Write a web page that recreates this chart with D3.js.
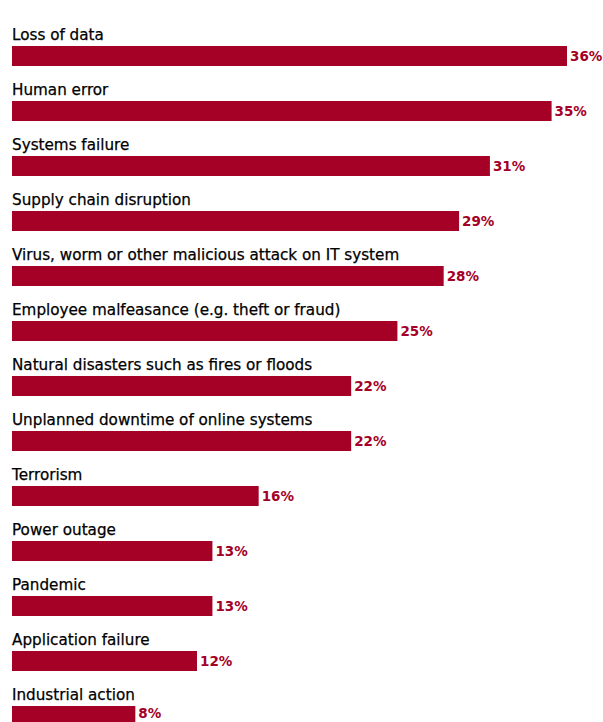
<!DOCTYPE html>
<html>
<head>
<meta charset="utf-8">
<script src="https://cdn.jsdelivr.net/npm/d3@7"></script>
<style>
  body { margin: 0; background: #fff; }
  .cat { font-family: "DejaVu Sans", Verdana, sans-serif; font-size: 15.2px; fill: #000; stroke: #000; stroke-width: 0.25px; }
  .val { font-family: "DejaVu Sans", Verdana, sans-serif; font-size: 13.5px; font-weight: bold; fill: #a50026; }
</style>
</head>
<body>
<div id="chart"></div>
<script>
var categories = [
    "Loss of data",
    "Human error",
    "Systems failure",
    "Supply chain disruption",
    "Virus, worm or other malicious attack on IT system",
    "Employee malfeasance (e.g. theft or fraud)",
    "Natural disasters such as fires or floods",
    "Unplanned downtime of online systems",
    "Terrorism",
    "Power outage",
    "Pandemic",
    "Application failure",
    "Industrial action"
];
var values = [36, 35, 31, 29, 28, 25, 22, 22, 16, 13, 13, 12, 8];

function init() {
    var w = 603;
    var h = 722;
    var left = 12;
    var top = 19;
    var rowH = 55;

    var svg = d3.select("#chart")
        .append("svg")
        .attr("width", w)
        .attr("height", h);

    // 36% reaches about x=567
    var xScale = d3.scaleLinear()
        .domain([0, 36])
        .range([left, 567]);

    var yScale = d3.scaleBand()
        .domain(categories)
        .range([top, top + rowH * categories.length])
        .paddingInner(0)
        .paddingOuter(0);

    var barTop = 27;
    var barH = 20;

    var rows = svg.selectAll("g.row")
        .data(categories)
        .enter()
        .append("g")
        .attr("class", "row")
        .attr("transform", function(d) { return "translate(0," + yScale(d) + ")"; });

    rows.append("text")
        .attr("class", "cat")
        .attr("x", left)
        .attr("y", 21)
        .text(function(d) { return d; });

    rows.append("rect")
        .attr("x", left)
        .attr("y", barTop)
        .attr("width", function(d, i) { return xScale(values[i]) - left; })
        .attr("height", barH)
        .attr("fill", "#a50026");

    // keep the last label inside the page (last bar runs off the bottom)
    rows.append("text")
        .attr("class", "val")
        .attr("x", function(d, i) { return xScale(values[i]) + 3; })
        .attr("y", function(d) { return Math.min(barTop + barH / 2 + 5, h - yScale(d) - 4); })
        .text(function(d, i) { return values[i] + "%"; });
}
window.onload = init;
</script>
</body>
</html>
